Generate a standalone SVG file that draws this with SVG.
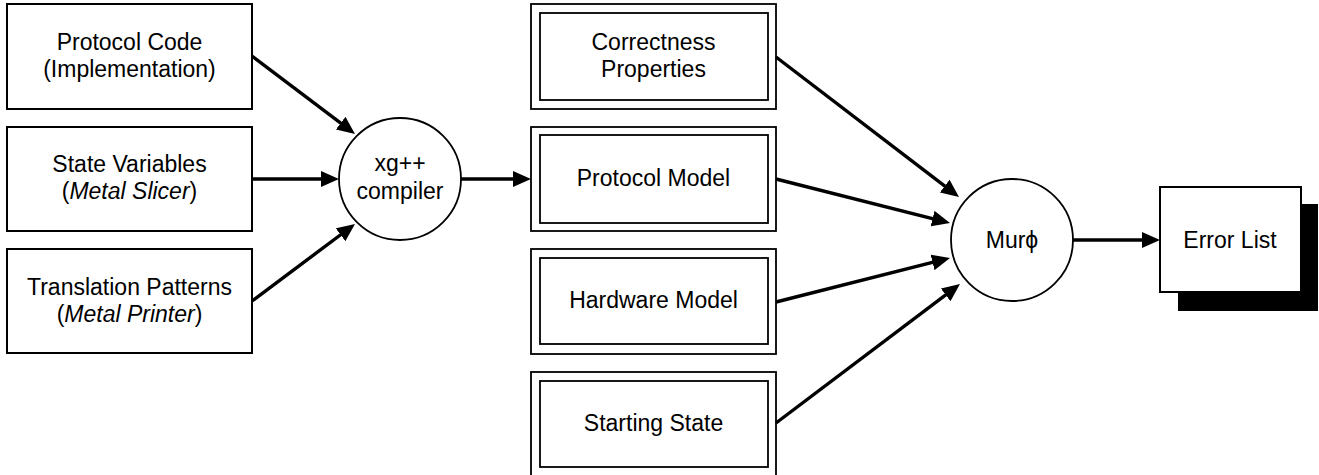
<svg xmlns="http://www.w3.org/2000/svg" width="1319" height="475" viewBox="0 0 1319 475">
<style>
text{font-family:"Liberation Sans",Arial,sans-serif;font-size:23px;fill:#000;text-anchor:middle}
.box{fill:#fff;stroke:#000;stroke-width:2}
.dbl{fill:#fff;stroke:#000;stroke-width:1.8}
.circ{fill:#fff;stroke:#000;stroke-width:1.8}
.conn{stroke:#000;stroke-width:3.4;fill:none;marker-end:url(#ah)}
.it{font-style:italic}
</style>
<defs>
<marker id="ah" markerUnits="userSpaceOnUse" markerWidth="18" markerHeight="17" refX="8" refY="8.5" orient="auto">
<path d="M0,0.5 L18,8.5 L0,16.5 z" fill="#000"/>
</marker>
</defs>
<rect width="1319" height="475" fill="#fff"/>
<g id="protocol-code">
<rect class="box" x="7" y="4" width="245" height="105"/>
<text x="129.5" y="50">Protocol Code</text>
<text x="129.5" y="77">(Implementation)</text>
</g>
<g id="state-variables">
<rect class="box" x="7" y="127" width="245" height="104"/>
<text x="129.5" y="172">State Variables</text>
<text x="129.5" y="199">(<tspan class="it">Metal Slicer</tspan>)</text>
</g>
<g id="translation-patterns">
<rect class="box" x="7" y="249" width="245" height="104"/>
<text x="129.5" y="295">Translation Patterns</text>
<text x="129.5" y="322">(<tspan class="it">Metal Printer</tspan>)</text>
</g>
<g id="xg-compiler">
<circle class="circ" cx="400" cy="179" r="61"/>
<text x="400" y="171">xg++</text>
<text x="400" y="199">compiler</text>
</g>
<g id="correctness-properties">
<rect class="dbl" x="531" y="4" width="245" height="105"/>
<rect class="dbl" x="540" y="13" width="228" height="87"/>
<text x="653.5" y="50">Correctness</text>
<text x="653.5" y="77">Properties</text>
</g>
<g id="protocol-model">
<rect class="dbl" x="531" y="127" width="245" height="104"/>
<rect class="dbl" x="540" y="135" width="228" height="88"/>
<text x="653.5" y="186">Protocol Model</text>
</g>
<g id="hardware-model">
<rect class="dbl" x="531" y="249" width="245" height="105"/>
<rect class="dbl" x="540" y="258" width="228" height="86"/>
<text x="653.5" y="308">Hardware Model</text>
</g>
<g id="starting-state">
<rect class="dbl" x="531" y="372" width="245" height="106"/>
<rect class="dbl" x="540" y="381" width="228" height="86"/>
<text x="653.5" y="431">Starting State</text>
</g>
<g id="murphi">
<circle class="circ" cx="1012" cy="240" r="61"/>
<text x="1012" y="248">Murϕ</text>
</g>
<g id="error-list">
<rect x="1178" y="204" width="140" height="107" fill="#000"/>
<rect class="box" x="1160" y="187" width="141" height="105"/>
<text x="1230" y="248">Error List</text>
</g>
<g id="connectors">
<line class="conn" x1="252" y1="56" x2="347.03" y2="127.96"/>
<line class="conn" x1="252" y1="179" x2="329" y2="179"/>
<line class="conn" x1="252" y1="301" x2="347" y2="230"/>
<line class="conn" x1="461" y1="179" x2="521" y2="179"/>
<line class="conn" x1="776" y1="57" x2="951.06" y2="190.92"/>
<line class="conn" x1="776" y1="179" x2="940.31" y2="220.55"/>
<line class="conn" x1="776" y1="302" x2="940.31" y2="260.45"/>
<line class="conn" x1="776" y1="423" x2="952.02" y2="290.03"/>
<line class="conn" x1="1073" y1="240" x2="1150" y2="240"/>
</g>
</svg>
